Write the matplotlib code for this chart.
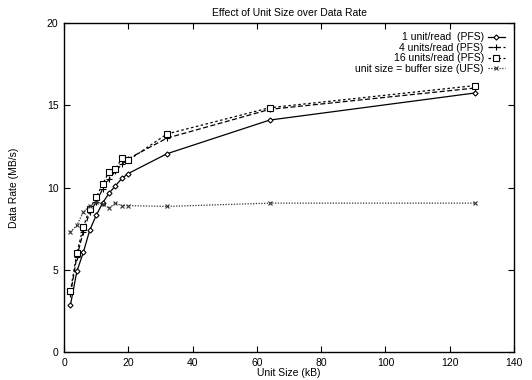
import matplotlib
matplotlib.use("Agg")
import matplotlib.pyplot as plt

plt.rcParams['font.family'] = ['Liberation Sans', 'DejaVu Sans']

unit_kb = [2, 4, 6, 8, 10, 12, 14, 16, 18, 20, 32, 64, 128]
pfs_1 = [2.85, 4.9, 6.05, 7.4, 8.3, 9.05, 9.65, 10.1, 10.55, 10.85, 12.05, 14.1, 15.75]
pfs_4 = [3.5, 5.8, 7.3, 8.5, 9.1, 9.9, 10.5, 11.0, 11.4, 11.75, 13.0, 14.75, 16.05]
pfs_16 = [3.7, 6.0, 7.6, 8.7, 9.4, 10.2, 10.95, 11.1, 11.8, 11.65, 13.25, 14.85, 16.2]
ufs = [7.3, 7.7, 8.5, 8.9, 9.1, 9.0, 8.75, 9.05, 8.9, 8.9, 8.85, 9.05, 9.05]

labels = ["1 unit/read  (PFS)", "4 units/read (PFS)",
          "16 units/read (PFS)", "unit size = buffer size (UFS)"]

fig = plt.figure(figsize=(5.32, 3.8), dpi=100)
ax = fig.add_axes([64/532, 1-352/380, 450/532, 329/380])

ax.plot(unit_kb, pfs_1, color="black", lw=0.9, ls="-", marker="D",
        markersize=2.6, markerfacecolor="white", markeredgewidth=0.8, label=labels[0])
ax.plot(unit_kb, pfs_4, color="black", lw=0.9, ls=(0, (4, 2)), marker="+",
        markersize=4.5, markeredgewidth=0.8, label=labels[1])
ax.plot(unit_kb, pfs_16, color="black", lw=0.9, ls=(0, (2, 2)), marker="s",
        markersize=4, markerfacecolor="white", markeredgewidth=0.8, label=labels[2])
ax.plot(unit_kb, ufs, color="#333333", lw=0.9, ls=(0, (1, 1.2)), marker="x",
        markersize=3.5, markeredgewidth=0.8, label=labels[3])

ax.set_xlim(0, 140)
ax.set_ylim(0, 20)
ax.set_xticks(range(0, 141, 20))
ax.set_yticks(range(0, 21, 5))
ax.tick_params(direction="in", top=True, right=True, length=4, width=0.8,
               labelsize=7.5, pad=4)
for s in ax.spines.values():
    s.set_linewidth(1.0)

ax.set_title("Effect of Unit Size over Data Rate", fontsize=7.5, pad=5)
ax.set_xlabel("Unit Size (kB)", fontsize=7.5, labelpad=0)
ax.set_ylabel("Data Rate (MB/s)", fontsize=7.5, labelpad=20)

ax.legend(loc="upper right", markerfirst=False, frameon=False, fontsize=7.5,
          handlelength=1.6, labelspacing=0.05, handletextpad=0.4,
          borderaxespad=0.5)

fig.savefig("out.png", dpi=100)
